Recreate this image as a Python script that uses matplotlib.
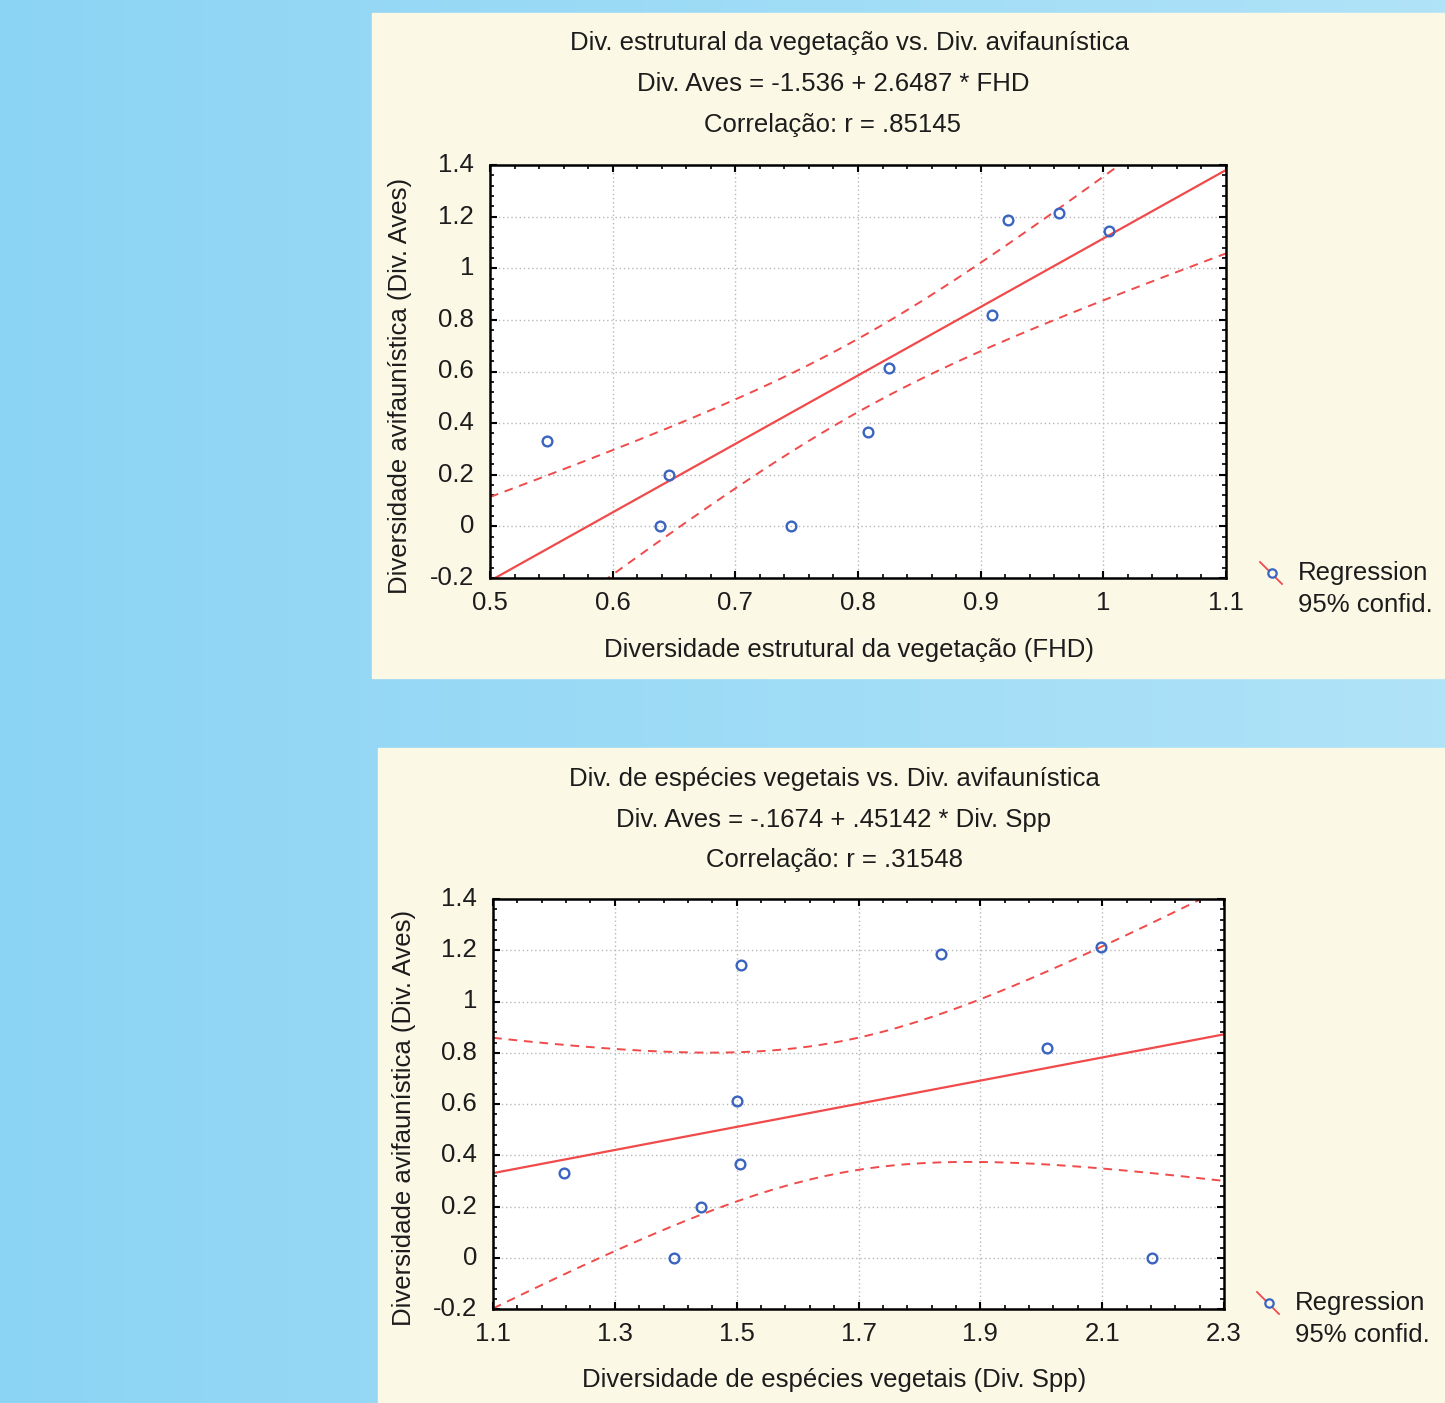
import numpy as np
import matplotlib
matplotlib.use("Agg")
import matplotlib.pyplot as plt
from matplotlib.patches import Rectangle
from matplotlib.lines import Line2D
from matplotlib.ticker import MultipleLocator

plt.rcParams['font.family'] = ['Liberation Sans', 'DejaVu Sans']

# dados
div_aves = [0.33, 0.20, 0.0, 0.0, 0.366, 0.612, 0.819, 1.187, 1.214, 1.144]
fhd = [0.5465, 0.646, 0.6386, 0.745, 0.808, 0.825, 0.909, 0.922, 0.964, 1.005]
div_spp = [1.2166, 1.4415, 1.397, 2.182, 1.5056, 1.5007, 2.0097, 1.8356, 2.098, 1.507]

xticks1 = [0.5, 0.6, 0.7, 0.8, 0.9, 1.0, 1.1]
xticks2 = [1.1, 1.3, 1.5, 1.7, 1.9, 2.1, 2.3]
yticks = [-0.2, 0, 0.2, 0.4, 0.6, 0.8, 1.0, 1.2, 1.4]

titulos1 = ["Div. estrutural da vegetação vs. Div. avifaunística",
            "Div. Aves = -1.536 + 2.6487 * FHD",
            "Correlação: r = .85145"]
titulos2 = ["Div. de espécies vegetais vs. Div. avifaunística",
            "Div. Aves = -.1674 + .45142 * Div. Spp",
            "Correlação: r = .31548"]
xlabel1 = "Diversidade estrutural da vegetação (FHD)"
xlabel2 = "Diversidade de espécies vegetais (Div. Spp)"
ylabel = "Diversidade avifaunística (Div. Aves)"
leg_labels = ["Regression", "95% confid."]

W, H = 1445, 1403
FS = 18.5
RED = '#f04a4a'
BLUE = '#3a64c0'
TXT = '#1c1c1c'
band_mult = 1.68

fig = plt.figure(figsize=(W / 100, H / 100), dpi=100)

# fundo (coordenadas em pixels)
bg = fig.add_axes([0, 0, 1, 1], zorder=0)
bg.set_xlim(0, W)
bg.set_ylim(H, 0)
bg.axis('off')
grad = np.linspace(0, 1, 256)[None, :]
cmap = matplotlib.colors.LinearSegmentedColormap.from_list('bg', ['#8cd4f4', '#b0e3f8'])
bg.imshow(grad, cmap=cmap, extent=[0, W, H, 0], aspect='auto')
bg.add_patch(Rectangle((372, 13), W - 372, 665, color='#fbf8e6'))
bg.add_patch(Rectangle((378, 748), W - 378, H - 748, color='#fbf8e6'))


def painel(x, y, box, xticks, xminor, titulos, tcent, ty, xlab, xlab_pos, ylab_pos, leg_pos):
    l, t, r, b = box
    xlim = (xticks[0], xticks[-1])
    ax = fig.add_axes([l / W, 1 - b / H, (r - l) / W, (b - t) / H], zorder=2)
    ax.set_facecolor('white')
    x = np.array(x)
    y = np.array(y)
    coef = np.polyfit(x, y, 1)
    xs = np.linspace(xlim[0], xlim[1], 200)
    fit = np.polyval(coef, xs)
    res = y - np.polyval(coef, x)
    s = np.sqrt(np.sum(res ** 2) / (len(x) - 2))
    se = s * np.sqrt(1 / len(x) + (xs - x.mean()) ** 2 / np.sum((x - x.mean()) ** 2))
    ax.plot(xs, fit, color=RED, lw=1.6)
    ax.plot(xs, fit + band_mult * se, color=RED, lw=1.4, dashes=(4.5, 3.5))
    ax.plot(xs, fit - band_mult * se, color=RED, lw=1.4, dashes=(4.5, 3.5))
    ax.plot(x, y, 'o', ms=7, mfc='none', mec=BLUE, mew=1.7, zorder=5)
    ax.set_xlim(*xlim)
    ax.set_ylim(yticks[0], yticks[-1])
    ax.set_xticks(xticks)
    ax.xaxis.set_minor_locator(MultipleLocator(xminor, offset=xticks[0] % xminor))
    ax.set_yticks(yticks)
    ax.yaxis.set_minor_locator(MultipleLocator(0.04))
    ax.set_xticklabels([])
    ax.set_yticklabels([])
    ax.tick_params(which='both', direction='in', top=True, right=True, color='black')
    ax.tick_params(which='major', length=5, width=1.5)
    ax.tick_params(which='minor', length=3, width=1.2)
    ax.grid(True, which='major', ls=(0, (1, 2)), color='#b8b8b8', lw=1)
    for sp in ax.spines.values():
        sp.set_linewidth(1.8)
    # rótulos dos ticks
    for v in xticks:
        px = l + (v - xlim[0]) / (xlim[1] - xlim[0]) * (r - l)
        bg.text(px, b + 25, '%g' % v, ha='center', va='center', fontsize=FS, color=TXT)
    for v in yticks:
        py = b - (v - yticks[0]) / (yticks[-1] - yticks[0]) * (b - t)
        bg.text(l - 16, py, '%g' % v, ha='right', va='center', fontsize=FS, color=TXT)
    for txt, cx, yy in zip(titulos, tcent, ty):
        bg.text(cx, yy, txt, ha='center', va='center', fontsize=FS, color=TXT)
    bg.text(xlab_pos[0], xlab_pos[1], xlab, ha='center', va='center', fontsize=FS, color=TXT)
    bg.text(ylab_pos[0], ylab_pos[1], ylabel, ha='center', va='center', rotation=90,
            fontsize=FS, color=TXT)
    # legenda
    lx, ly = leg_pos
    bg.add_line(Line2D([lx - 11, lx + 11], [ly - 11, ly + 11], color=RED, lw=1.3))
    bg.plot([lx + 1], [ly], 'o', ms=6, mfc='#fbf8e6', mec=BLUE, mew=1.6)
    bg.text(lx + 27, ly, leg_labels[0], ha='left', va='center', fontsize=FS, color=TXT)
    bg.text(lx + 27, ly + 32, leg_labels[1], ha='left', va='center', fontsize=FS, color=TXT)
    return ax


painel(fhd, div_aves, (490, 165, 1226, 578), xticks1, 0.02,
       titulos1, [849, 833, 833], [43, 84, 125], xlabel1, (849, 650), (400, 386), (1271, 573))
painel(div_spp, div_aves, (493, 899, 1224, 1309), xticks2, 0.04,
       titulos2, [834, 834, 834], [779, 820, 860], xlabel2, (834, 1380), (404, 1118), (1268, 1303))

fig.savefig('out.png', dpi=100)
